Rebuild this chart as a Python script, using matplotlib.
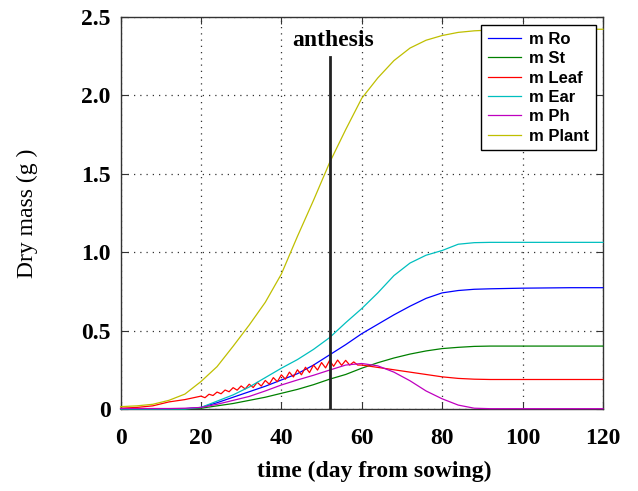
from matplotlib import pyplot as pp
from matplotlib import rc
import numpy as np

rc('font', **{'family': 'serif', 'serif': ['Liberation Serif', 'DejaVu Serif']})

# days used for the smooth curves
days = [0, 4, 8, 12, 16, 20, 24, 28, 32, 36, 40, 44, 48, 52, 56, 60,
        64, 68, 72, 76, 80, 84, 88, 92, 96, 100, 104, 108, 112, 116, 120]

mRo = [0, 0, 0, 0, 0.002, 0.01, 0.04, 0.075, 0.11, 0.145, 0.185, 0.225, 0.28, 0.345, 0.41, 0.48,
       0.54, 0.60, 0.655, 0.705, 0.74, 0.755, 0.763, 0.766, 0.768, 0.77, 0.771, 0.772, 0.773, 0.773, 0.773]
mSt = [0, 0, 0, 0, 0, 0.005, 0.02, 0.035, 0.055, 0.075, 0.10, 0.125, 0.155, 0.19, 0.22, 0.26,
       0.295, 0.325, 0.35, 0.37, 0.385, 0.393, 0.399, 0.401, 0.401, 0.401, 0.401, 0.401, 0.401, 0.401, 0.401]
mEar = [0, 0, 0, 0, 0, 0.01, 0.05, 0.09, 0.14, 0.20, 0.26, 0.315, 0.38, 0.455, 0.55, 0.64,
        0.74, 0.85, 0.93, 0.98, 1.01, 1.05, 1.06, 1.062, 1.062, 1.062, 1.062, 1.062, 1.062, 1.062, 1.062]
mPh = [0.003, 0.003, 0.003, 0.003, 0.005, 0.01, 0.03, 0.055, 0.08, 0.115, 0.153, 0.185, 0.215, 0.248, 0.28, 0.29,
       0.275, 0.235, 0.18, 0.115, 0.065, 0.025, 0.005, 0.002, 0.002, 0.002, 0.002, 0.002, 0.002, 0.002, 0.002]
mPlant = [0.015, 0.02, 0.03, 0.055, 0.095, 0.175, 0.27, 0.40, 0.535, 0.68, 0.86, 1.10, 1.33, 1.57, 1.78, 1.98,
          2.11, 2.22, 2.30, 2.35, 2.38, 2.40, 2.41, 2.415, 2.42, 2.42, 2.42, 2.42, 2.42, 2.42, 2.42]

# leaf is noisy between day 20 and 60, so it gets its own denser days
leafDays = [0, 4, 8, 12, 16] + list(range(20, 61)) + [64, 68, 72, 76, 80, 84, 88, 92, 96, 100, 104, 108, 112, 116, 120]
mLeaf = [0.005, 0.01, 0.02, 0.045, 0.06,
         0.082, 0.072, 0.094, 0.086, 0.108, 0.097, 0.121, 0.110, 0.136, 0.12,
         0.147, 0.128, 0.158, 0.137, 0.17, 0.146, 0.182, 0.158, 0.2, 0.174,
         0.218, 0.19, 0.235, 0.204, 0.25, 0.218, 0.266, 0.232, 0.28, 0.248,
         0.296, 0.262, 0.31, 0.272, 0.312, 0.278, 0.31, 0.28, 0.3, 0.28, 0.28,
         0.265, 0.25, 0.235, 0.22, 0.205, 0.195, 0.19, 0.188, 0.188, 0.188, 0.188, 0.188, 0.188, 0.188, 0.188]

anthesisDay = 52.1
anthesisTop = 2.24

xTicks = [0, 20, 40, 60, 80, 100, 120]
yTicks = [0, 0.5, 1.0, 1.5, 2.0, 2.5]
yTickLabels = ['0', '0.5', '1.0', '1.5', '2.0', '2.5']

series = [('m Ro', days, mRo, (0, 0, 1)),
          ('m St', days, mSt, (0, 0.5, 0)),
          ('m Leaf', leafDays, mLeaf, (1, 0, 0)),
          ('m Ear', days, mEar, (0, 0.75, 0.75)),
          ('m Ph', days, mPh, (0.75, 0, 0.75)),
          ('m Plant', days, mPlant, (0.75, 0.75, 0))]

fig = pp.figure(figsize=(6.38, 4.91), dpi=100)
ax = fig.add_axes([0.189, 0.167, 0.756, 0.799])

for name, x, y, c in series:
  ax.plot(x, y, color=c, linewidth=0.9, label=name, clip_on=False, zorder=3)

ax.plot([anthesisDay, anthesisDay], [0, anthesisTop], color='#222222', linewidth=2, zorder=4)
ax.text(anthesisDay + 0.8, 2.35, 'anthesis', ha='center', va='center', fontsize=17, fontweight='bold')

ax.set_xlim(0, 120)
ax.set_ylim(0, 2.5)
ax.set_xticks(xTicks)
ax.set_yticks(yTicks)
ax.set_yticklabels(yTickLabels)
ax.grid(True, color='#333333', linestyle=(0, (1, 4)), linewidth=0.9)
ax.tick_params(direction='in', length=5, top=True, right=True, labelsize=17, color='#333333')
ax.tick_params(axis='x', pad=14)
ax.tick_params(axis='y', pad=7)
for lab in ax.get_xticklabels() + ax.get_yticklabels():
  lab.set_fontweight('bold')
for s in ax.spines.values():
  s.set_color('#333333')
  s.set_linewidth(1.0)

ax.set_xlabel('time (day from sowing)', fontsize=17, fontweight='bold')
ax.xaxis.set_label_coords(0.525, -0.132)
ax.set_ylabel('Dry mass (g )', fontsize=17)
ax.yaxis.set_label_coords(-0.172, 0.5)

leg = ax.legend(loc='upper right', bbox_to_anchor=(0.9855, 0.978), borderaxespad=0,
                fancybox=False, framealpha=1, edgecolor='black', handlelength=2.0,
                handletextpad=0.5, labelspacing=0.26,
                prop={'family': 'Liberation Sans', 'weight': 'bold', 'size': 12})
leg.get_frame().set_linewidth(1.0)
leg.set_zorder(5)

pp.savefig('out.png', dpi=100)
